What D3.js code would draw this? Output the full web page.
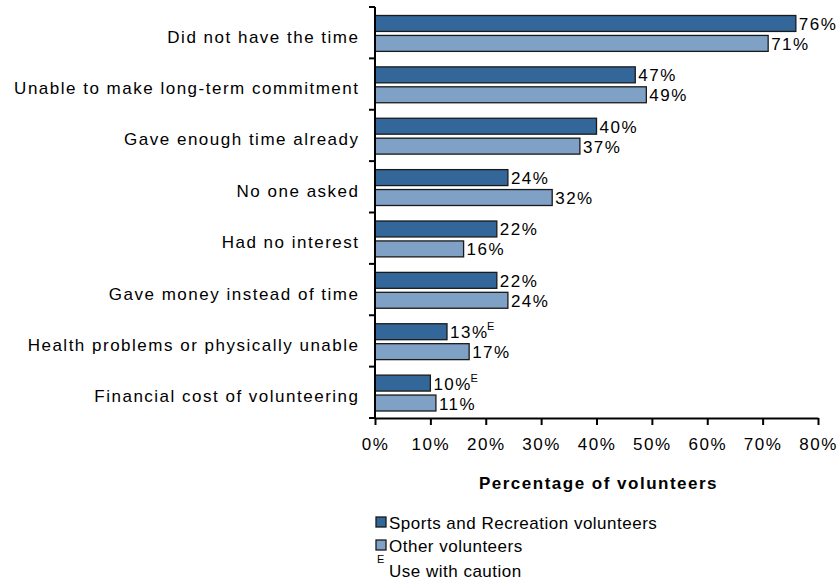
<!DOCTYPE html>
<html>
<head>
<meta charset="utf-8">
<script src="https://cdn.jsdelivr.net/npm/d3@7"></script>
<style>
  html, body { margin: 0; padding: 0; background: #fff; }
  text { font-family: "Liberation Sans", Arial, sans-serif; fill: #000; }
</style>
</head>
<body>
<svg id="chart" width="839" height="584"></svg>
<script>
// Reasons for not volunteering more, by volunteer type
const categories = [
  "Did not have the time",
  "Unable to make long-term commitment",
  "Gave enough time already",
  "No one asked",
  "Had no interest",
  "Gave money instead of time",
  "Health problems or physically unable",
  "Financial cost of volunteering"
];
const sportsValues = [76, 47, 40, 24, 22, 22, 13, 10];
const otherValues  = [71, 49, 37, 32, 16, 24, 17, 11];
const sportsCaution = [false, false, false, false, false, false, true, true];
const otherCaution  = [false, false, false, false, false, false, false, false];
const seriesNames = ["Sports and Recreation volunteers", "Other volunteers"];
const xTicks = [0, 10, 20, 30, 40, 50, 60, 70, 80];
const xTitle = "Percentage of volunteers";
const cautionNote = "Use with caution";

const colors = ["#336699", "#7fa1c5"];
const fontSize = "17px";
const spacing = "1.5px";

const svg = d3.select("#chart");
const plotLeft = 375, plotRight = 818, plotTop = 7, plotBottom = 418;

const x = d3.scaleLinear().domain([0, 80]).range([plotLeft, plotRight]);
const y = d3.scaleBand().domain(categories).range([plotTop, plotBottom]);
const inner = d3.scaleBand().domain([0, 1]).range([8.5, y.bandwidth() - 7]).paddingInner(0.2);

const series = [
  { values: sportsValues, caution: sportsCaution },
  { values: otherValues, caution: otherCaution }
];

const groups = svg.append("g").selectAll("g")
  .data(categories)
  .join("g")
  .attr("transform", d => `translate(0,${y(d)})`);

series.forEach((s, si) => {
  groups.append("rect")
    .attr("x", x(0))
    .attr("y", inner(si))
    .attr("width", (d, i) => x(s.values[i]) - x(0))
    .attr("height", inner.bandwidth())
    .attr("fill", colors[si])
    .attr("stroke", "#1a1a1a")
    .attr("stroke-width", 1.3);

  const lbl = groups.append("text")
    .attr("x", (d, i) => x(s.values[i]) + 3)
    .attr("y", inner(si) + inner.bandwidth() / 2 + 6.5)
    .style("font-size", fontSize)
    .style("letter-spacing", spacing);
  lbl.append("tspan").text((d, i) => s.values[i] + "%");
  lbl.filter((d, i) => s.caution[i])
    .append("tspan")
    .attr("dy", -8)
    .attr("dx", -1.5)
    .style("font-size", "11px")
    .style("letter-spacing", "0px")
    .text("E");
});

// Category axis
const yAxis = svg.append("g")
  .attr("transform", `translate(${plotLeft},0)`);
yAxis.append("line")
  .attr("x1", 0).attr("x2", 0).attr("y1", plotTop).attr("y2", plotBottom)
  .attr("stroke", "#000").attr("stroke-width", 2);
const boundaries = categories.map(c => y(c)).concat([plotBottom]);
yAxis.selectAll("line.tick").data(boundaries).join("line")
  .attr("class", "tick")
  .attr("x1", -6).attr("x2", 0)
  .attr("y1", d => d).attr("y2", d => d)
  .attr("stroke", "#000").attr("stroke-width", 2);
yAxis.selectAll("text").data(categories).join("text")
  .attr("x", -15.5)
  .attr("y", d => y(d) + y.bandwidth() / 2 + 10)
  .attr("text-anchor", "end")
  .style("font-size", fontSize)
  .style("letter-spacing", spacing)
  .text(d => d);

// Value axis
const xAxis = svg.append("g")
  .attr("transform", `translate(0,${plotBottom})`)
  .call(d3.axisBottom(x).tickValues(xTicks).tickFormat(d => d + "%").tickSize(7).tickPadding(13).tickSizeOuter(0));
xAxis.select(".domain").attr("stroke", "#000").attr("stroke-width", 2);
xAxis.selectAll(".tick line").attr("stroke", "#000").attr("stroke-width", 2);
xAxis.selectAll(".tick text")
  .style("font-family", "'Liberation Sans', Arial, sans-serif")
  .style("font-size", fontSize)
  .style("letter-spacing", spacing)
  .attr("fill", "#000");

svg.append("text")
  .attr("x", (plotLeft + plotRight) / 2 + 2)
  .attr("y", 489)
  .attr("text-anchor", "middle")
  .style("font-size", fontSize)
  .style("letter-spacing", spacing)
  .style("font-weight", "bold")
  .text(xTitle);

// Legend
const legend = svg.append("g");
seriesNames.forEach((name, i) => {
  const ly = 517 + i * 23;
  legend.append("rect")
    .attr("x", 376).attr("y", ly)
    .attr("width", 10).attr("height", 10)
    .attr("fill", colors[i])
    .attr("stroke", "#1a1a1a").attr("stroke-width", 1.3);
  legend.append("text")
    .attr("x", 389).attr("y", ly + 12)
    .style("font-size", fontSize)
    .style("letter-spacing", "0.5px")
    .text(name);
});
legend.append("text")
  .attr("x", 377).attr("y", 563)
  .style("font-size", "11px")
  .text("E");
legend.append("text")
  .attr("x", 389).attr("y", 577)
  .style("font-size", fontSize)
  .style("letter-spacing", "0.5px")
  .text(cautionNote);
</script>
</body>
</html>
